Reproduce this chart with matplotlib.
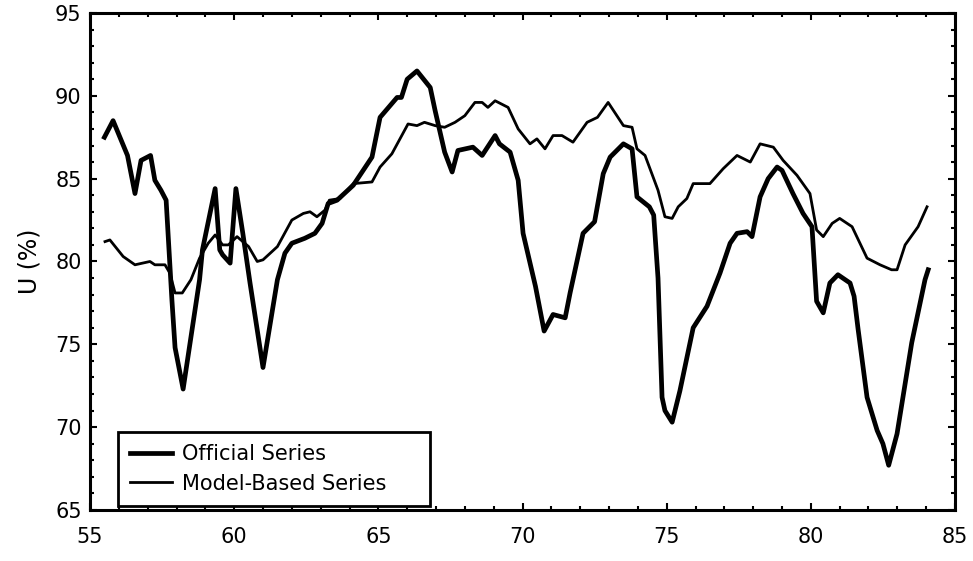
import matplotlib
matplotlib.use("Agg")
import matplotlib.pyplot as plt
from matplotlib.ticker import MultipleLocator

# values (year, unemployment %)
official_years = [55.5, 55.8, 56.3, 56.56, 56.77, 57.1, 57.25, 57.46, 57.64, 57.84,
                  57.95, 58.23, 58.8, 58.9, 59.34, 59.5, 59.6, 59.86, 60.06, 60.3,
                  60.55, 61.0, 61.5, 61.76, 62.0, 62.45, 62.8, 63.05, 63.26, 63.57,
                  64.13, 64.78, 65.06, 65.65, 65.8, 66.0, 66.34, 66.8, 66.97, 67.3,
                  67.56, 67.76, 68.28, 68.6, 69.05, 69.2, 69.57, 69.85, 70.02, 70.45,
                  70.75, 71.06, 71.48, 71.65, 72.1, 72.5, 72.8, 73.04, 73.5, 73.8,
                  73.97, 74.4, 74.55, 74.7, 74.84, 74.94, 75.19, 75.46, 75.92, 76.4,
                  76.85, 77.2, 77.44, 77.79, 77.96, 78.24, 78.52, 78.83, 79.0, 79.38,
                  79.73, 80.04, 80.2, 80.43, 80.66, 80.94, 81.36, 81.5, 81.64, 81.95,
                  82.3, 82.5, 82.7, 82.99, 83.5, 83.96, 84.07]
official_values = [87.5, 88.5, 86.4, 84.1, 86.1, 86.4, 84.9, 84.3, 83.7, 77.7,
                   74.8, 72.3, 78.9, 80.7, 84.4, 80.7, 80.4, 79.9, 84.4, 81.7,
                   78.7, 73.6, 78.9, 80.5, 81.1, 81.4, 81.7, 82.3, 83.5, 83.7,
                   84.6, 86.3, 88.7, 89.9, 89.9, 91.0, 91.5, 90.5, 89.1, 86.6,
                   85.4, 86.7, 86.9, 86.4, 87.6, 87.1, 86.6, 84.9, 81.7, 78.5,
                   75.8, 76.8, 76.6, 78.1, 81.7, 82.4, 85.3, 86.3, 87.1, 86.8,
                   83.9, 83.3, 82.8, 79.0, 71.8, 71.0, 70.3, 72.2, 76.0, 77.3,
                   79.3, 81.1, 81.7, 81.8, 81.5, 83.9, 85.0, 85.7, 85.5, 84.1,
                   82.9, 82.1, 77.6, 76.9, 78.7, 79.2, 78.7, 77.9, 75.9, 71.8,
                   69.8, 69.0, 67.7, 69.6, 75.1, 78.9, 79.5]

model_years = [55.52, 55.69, 56.15, 56.56, 57.08, 57.25, 57.6, 57.77, 57.95, 58.2,
               58.5, 58.8, 59.1, 59.34, 59.6, 59.8, 60.1, 60.5, 60.8, 61.0,
               61.5, 62.0, 62.4, 62.63, 62.87, 63.15, 63.3, 63.67, 64.13, 64.78,
               65.06, 65.47, 66.03, 66.34, 66.6, 66.97, 67.3, 67.66, 68.0, 68.35,
               68.6, 68.8, 69.05, 69.5, 69.85, 70.26, 70.5, 70.78, 71.06, 71.37,
               71.75, 72.24, 72.6, 72.97, 73.5, 73.8, 73.97, 74.25, 74.7, 74.94,
               75.19, 75.4, 75.7, 75.92, 76.5, 76.96, 77.44, 77.9, 78.24, 78.7,
               79.04, 79.52, 79.97, 80.2, 80.43, 80.74, 81.0, 81.43, 81.95, 82.4,
               82.8, 82.99, 83.27, 83.72, 84.03]
model_values = [81.2, 81.3, 80.3, 79.8, 80.0, 79.8, 79.8, 79.3, 78.1, 78.1,
                78.9, 80.2, 81.1, 81.6, 81.0, 81.0, 81.5, 80.9, 80.0, 80.1,
                80.9, 82.5, 82.9, 83.0, 82.7, 83.1, 83.7, 83.8, 84.7, 84.8,
                85.7, 86.5, 88.3, 88.2, 88.4, 88.2, 88.1, 88.4, 88.8, 89.6,
                89.6, 89.3, 89.7, 89.3, 88.0, 87.1, 87.4, 86.8, 87.6, 87.6,
                87.2, 88.4, 88.7, 89.6, 88.2, 88.1, 86.8, 86.4, 84.3, 82.7,
                82.6, 83.3, 83.8, 84.7, 84.7, 85.6, 86.4, 86.0, 87.1, 86.9,
                86.1, 85.2, 84.1, 81.9, 81.5, 82.3, 82.6, 82.1, 80.2, 79.8,
                79.5, 79.5, 81.0, 82.1, 83.3]

fig = plt.figure(figsize=(9.73, 5.61), dpi=100)
ax = fig.add_axes([0.0925, 0.0909, 0.889, 0.886])

ax.plot(official_years, official_values, color="black", lw=3.4,
        solid_joinstyle="round", label="Official Series")
ax.plot(model_years, model_values, color="black", lw=2.0,
        solid_joinstyle="round", label="Model-Based Series")

ax.set_xlim(55, 85)
ax.set_ylim(65, 95)
ax.xaxis.set_major_locator(MultipleLocator(5))
ax.yaxis.set_major_locator(MultipleLocator(5))
ax.xaxis.set_minor_locator(MultipleLocator(1))
ax.yaxis.set_minor_locator(MultipleLocator(1))
ax.tick_params(which="both", direction="in", top=True, right=True,
               width=1.5, labelsize=15)
ax.tick_params(which="major", length=5)
ax.tick_params(which="minor", length=3)
ax.tick_params(axis="x", pad=12)
ax.tick_params(axis="y", pad=6)
for s in ax.spines.values():
    s.set_linewidth(2.2)

ax.set_ylabel("U (%)", fontsize=17, labelpad=10)

leg = ax.legend(loc="lower left", bbox_to_anchor=(0.032, 0.008, 0.361, 0.15),
                mode="expand", borderaxespad=0, fancybox=False,
                edgecolor="black", fontsize=15, handlelength=2.0,
                handletextpad=0.5, framealpha=1, borderpad=0.6,
                labelspacing=0.45)
leg.get_frame().set_linewidth(2)

fig.savefig("out.png", dpi=100)
